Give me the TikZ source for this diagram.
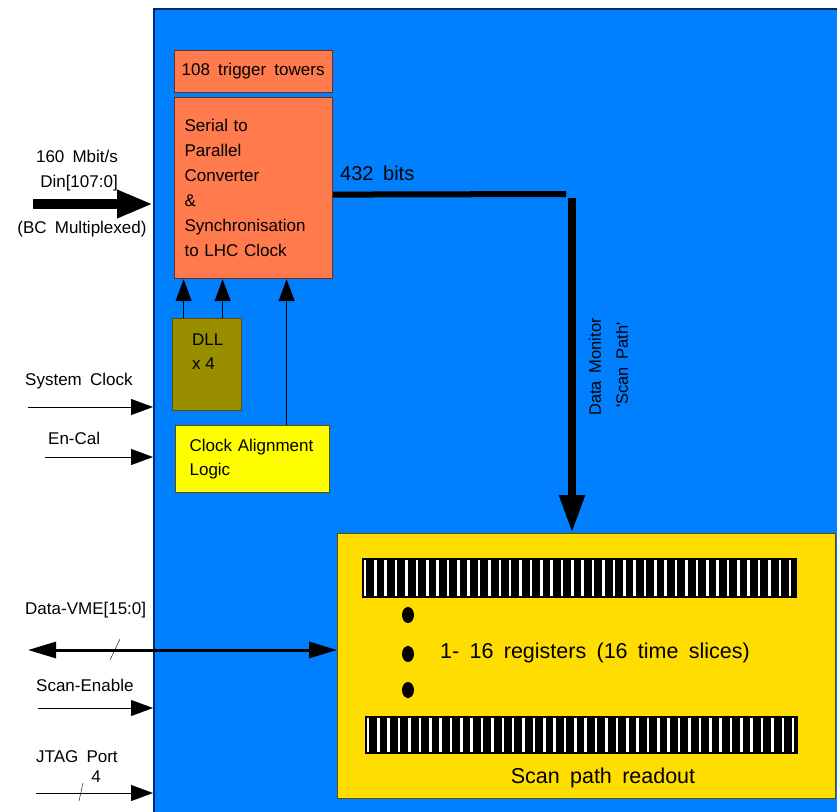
\documentclass[tikz,border=0pt]{standalone}
\usepackage{fontspec}
\setmainfont{Liberation Sans}
\usetikzlibrary{arrows.meta,positioning}
\definecolor{chipblue}{RGB}{0,128,255}
\definecolor{chipedge}{RGB}{0,40,110}
\definecolor{coral}{RGB}{255,122,77}
\definecolor{coraledge}{RGB}{110,45,25}
\definecolor{dllolive}{RGB}{153,142,0}
\definecolor{clkyellow}{RGB}{255,255,0}
\definecolor{scangold}{RGB}{255,221,0}
\definecolor{boxedge}{RGB}{90,80,0}
\newcommand\widesp{\spaceskip=0.48em plus 0.1em\relax}

\begin{document}
\begin{tikzpicture}[x=1pt, y=-1pt,
    lbl/.style={font=\fontsize{17}{22}\selectfont\widesp, inner sep=0pt},
    biglbl/.style={font=\fontsize{21.5}{26}\selectfont\widesp, inner sep=0pt},
    blockbox/.style={anchor=north west, inner ysep=0pt, align=left, font=\fontsize{17}{25}\selectfont, line width=1.2pt},
    orangebox/.style={blockbox, draw=coraledge, fill=coral},
    regbar/.style={anchor=north west, fill=black, inner sep=0pt},
    stripe/.style={white, line width=2.6pt},
    thinarrow/.style={-{Triangle[length=22pt,width=16pt]}, line width=1pt},
    fatarrow/.style={-{Triangle[length=36pt,width=26pt]}, line width=10pt},
    vmearrow/.style={{Triangle[length=28pt,width=16pt]}-{Triangle[length=28pt,width=16pt]}, line width=3pt},
    bus/.style={line width=6pt},
    monitor/.style={-{Triangle[length=38pt,width=24pt]}, line width=8pt}
  ]
    \useasboundingbox (0,0) rectangle (837,811);

    % chip outline
    \node[anchor=north west, draw=chipedge, fill=chipblue, line width=1.5pt, minimum width=720pt, minimum height=830pt, inner sep=0pt] (chip) at (153,8) {};

    % front-end blocks
    \node[orangebox, minimum width=158pt, minimum height=42pt, inner xsep=7pt, text width=144pt] (towers) at (174,50) {\widesp 108 trigger towers};
    \node[orangebox, minimum width=158pt, minimum height=181pt, inner xsep=10pt, text width=138pt] (serial) at (174,97) {Serial to\\Parallel\\Converter\\\&\\Synchronisation\\to LHC Clock};
    \node[blockbox, draw=boxedge, fill=dllolive, minimum width=69pt, minimum height=92pt] (dll) at (172,318) {};
    \node[lbl, anchor=west, align=left, font=\fontsize{17}{24}\selectfont] (dlltxt) at (192,352) {DLL\\x 4};
    \node[blockbox, draw=boxedge, fill=clkyellow, minimum width=154pt, minimum height=67pt, inner xsep=14pt, text width=126pt, font=\fontsize{17}{24}\selectfont] (clkalign) at (175,425) {Clock Alignment\\Logic};

    \draw[thinarrow] ([xshift=-23.5pt]dll.north) -- ([xshift=-23.5pt]dll.north |- serial.south);
    \draw[thinarrow] ([xshift=15.5pt]dll.north) -- ([xshift=15.5pt]dll.north |- serial.south);
    \draw[thinarrow] ([xshift=34pt]clkalign.north) -- ([xshift=34pt]clkalign.north |- serial.south);

    % scan path readout
    \node[anchor=north west, draw=boxedge, fill=scangold, line width=1.2pt, minimum width=498pt, minimum height=265pt] (scanbox) at (337,533) {};
    \node[regbar, minimum width=435pt, minimum height=40pt] (regtop) at (362,558) {};
    \node[regbar, minimum width=433pt, minimum height=38pt] (regbot) at (365,716) {};
    \foreach \i in {0,...,41} {
      \draw[stripe] (365+\i*10.37,560) -- ++(0,36);
      \draw[stripe] (368+\i*10.37,718) -- ++(0,34);
    }
    \fill (408,615) ellipse (6 and 8);
    \fill (408,654) ellipse (6 and 8);
    \fill (408,690) ellipse (6 and 8);
    \node[biglbl, anchor=west] (regtxt) at (440,653) {1- 16 registers (16 time slices)};
    \node[biglbl] (scantxt) at (603,778) {Scan path readout};

    % data bus to scan path
    \coordinate (bus-end) at (566,194);
    \coordinate (mon-top) at (572,198);
    \draw[bus] ([yshift=-6.5pt]serial.east) -- (bus-end);
    \draw[monitor] (mon-top) -- (mon-top |- scanbox.north);
    \node[lbl, font=\fontsize{20}{24}\selectfont\widesp, anchor=west] (bits) at (340,173) {432 bits};
    \node[lbl, font=\fontsize{16.5}{20}\selectfont\widesp, rotate=90] (montxt) at (595,367) {Data Monitor};
    \node[lbl, font=\fontsize{16.5}{20}\selectfont\widesp, rotate=90] (pathtxt) at (622,365) {\textquotesingle Scan Path\textquotesingle};

    % inputs
    \coordinate (din-in) at (33,204);
    \draw[fatarrow] (din-in) -- (din-in -| chip.west);
    \node[lbl] (rate) at (77,156) {160 Mbit/s};
    \node[lbl] (din) at (79,183) {Din[107:0]};
    \node[lbl] (bcmux) at (82,229) {(BC Multiplexed)};

    \coordinate (sysclk-in) at (28,407);
    \draw[thinarrow] (sysclk-in) -- (sysclk-in -| chip.west);
    \node[lbl, anchor=west] (sysclk) at (25,381) {System Clock};

    \coordinate (encal-in) at (45,457);
    \draw[thinarrow] (encal-in) -- (encal-in -| chip.west);
    \node[lbl, anchor=west] (encal) at (48,438) {En-Cal};

    \coordinate (vme-in) at (28,650);
    \draw[vmearrow] (vme-in) -- (vme-in -| scanbox.west);
    \draw (120,639) -- (110,660);
    \node[lbl, anchor=west] (vme) at (25,610) {Data-VME[15:0]};

    \coordinate (scanen-in) at (38,708);
    \draw[thinarrow] (scanen-in) -- (scanen-in -| chip.west);
    \node[lbl, anchor=west] (scanen) at (36,685) {Scan-Enable};

    \coordinate (jtag-in) at (36,793);
    \draw[thinarrow] (jtag-in) -- (jtag-in -| chip.west);
    \draw (83,783) -- (79,801);
    \node[lbl, anchor=west] (jtag) at (36,757) {JTAG Port};
    \node[lbl] (jtagw) at (96,777) {4};
\end{tikzpicture}
\end{document}
